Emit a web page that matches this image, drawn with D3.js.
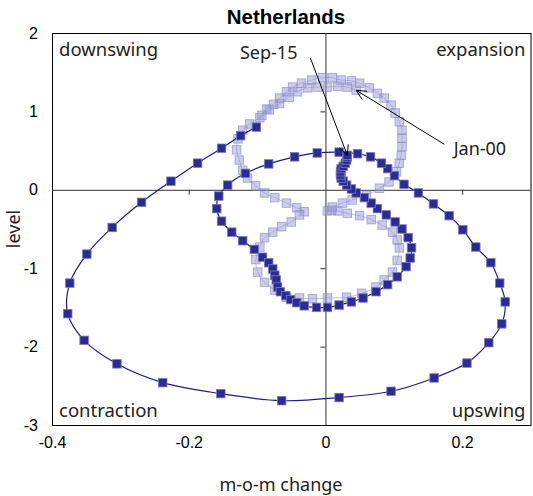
<!DOCTYPE html>
<html>
<head>
<meta charset="utf-8">
<script src="https://cdn.jsdelivr.net/npm/d3@7"></script>
<style>
  body { margin: 0; background: #fff; }
  .tick-label { font-family: "Liberation Sans", Arial, sans-serif; font-size: 16px; fill: #000; }
  .soft { font-family: "Noto Sans", "Open Sans", sans-serif; font-size: 18px; fill: #222; }
  .quad { font-size: 18.5px; }
</style>
</head>
<body>
<div id="chart"></div>
<script>
const WIDTH = 533;
const HEIGHT = 496;
const MARGIN = {top: 33, right: 2, bottom: 71, left: 52};

// earlier part of the cycle, drawn faint (Jan-00 onwards)
const earlyChange = [0.045, 0.032, 0.018, 0.003, -0.012, -0.026, -0.041, -0.053, -0.067, -0.082,
    -0.096, -0.111, -0.121, -0.128, -0.130, -0.126, -0.121, -0.114, -0.102, -0.089,
    -0.074, -0.057, -0.042, -0.031, -0.038, -0.050, -0.064, -0.077, -0.089, -0.096,
    -0.102, -0.099, -0.089, -0.074, -0.057, -0.038, -0.019, 0.003, 0.031, 0.053,
    0.074, 0.086, 0.098, 0.105, 0.108, 0.105, 0.098, 0.083, 0.067, 0.050,
    0.032, 0.018, 0.009, 0.003, 0.010, 0.025, 0.039, 0.060, 0.079, 0.093,
    0.104, 0.108, 0.111, 0.112, 0.112, 0.112, 0.108, 0.102, 0.096, 0.086,
    0.076, 0.064, 0.050, 0.038, 0.023, 0.010, -0.004, -0.020, -0.035, -0.048,
    -0.057, -0.067, -0.076, -0.086, -0.093];
const earlyLevel = [1.27, 1.31, 1.32, 1.31, 1.31, 1.30, 1.25, 1.18, 1.10, 1.02,
    0.92, 0.84, 0.76, 0.65, 0.51, 0.38, 0.25, 0.15, 0.05, -0.04,
    -0.10, -0.17, -0.23, -0.28, -0.32, -0.41, -0.47, -0.54, -0.61, -0.73,
    -0.89, -1.05, -1.18, -1.28, -1.37, -1.38, -1.39, -1.38, -1.37, -1.32,
    -1.24, -1.15, -1.05, -0.90, -0.74, -0.64, -0.54, -0.45, -0.38, -0.33,
    -0.30, -0.27, -0.26, -0.27, -0.22, -0.17, -0.13, -0.07, 0.02, 0.10,
    0.23, 0.34, 0.44, 0.55, 0.66, 0.76, 0.87, 0.98, 1.08, 1.17,
    1.23, 1.30, 1.36, 1.39, 1.40, 1.43, 1.43, 1.40, 1.36, 1.31,
    1.25, 1.17, 1.09, 1.03, 0.95];

// recent part of the cycle, up to Sep-15
const recentChange = [-0.101, -0.124, -0.152, -0.187, -0.226, -0.269, -0.312, -0.349, -0.374, -0.377,
    -0.353, -0.305, -0.238, -0.153, -0.064, 0.020, 0.096, 0.159, 0.207, 0.239,
    0.258, 0.263, 0.255, 0.242, 0.220, 0.201, 0.181, 0.158, 0.136, 0.115,
    0.101, 0.091, 0.082, 0.066, 0.047, 0.020, -0.012, -0.045, -0.083, -0.117,
    -0.143, -0.156, -0.159, -0.152, -0.137, -0.121, -0.104, -0.092, -0.083, -0.077,
    -0.074, -0.072, -0.070, -0.066, -0.058, -0.051, -0.042, -0.031, -0.013, 0.003,
    0.020, 0.038, 0.055, 0.074, 0.091, 0.105, 0.118, 0.124, 0.126, 0.121,
    0.112, 0.102, 0.089, 0.076, 0.067, 0.057, 0.045, 0.038, 0.031, 0.026,
    0.023, 0.022, 0.022, 0.023, 0.026, 0.029, 0.031, 0.032, 0.032];
const recentLevel = [0.80, 0.69, 0.53, 0.34, 0.11, -0.16, -0.48, -0.82, -1.19, -1.58,
    -1.92, -2.22, -2.46, -2.60, -2.69, -2.65, -2.57, -2.40, -2.21, -1.95,
    -1.71, -1.43, -1.19, -0.93, -0.73, -0.51, -0.33, -0.18, -0.04, 0.07,
    0.18, 0.27, 0.34, 0.42, 0.46, 0.48, 0.47, 0.42, 0.33, 0.21,
    0.06, -0.08, -0.24, -0.40, -0.54, -0.65, -0.76, -0.86, -0.93, -1.01,
    -1.09, -1.15, -1.24, -1.30, -1.35, -1.40, -1.44, -1.48, -1.50, -1.50,
    -1.47, -1.43, -1.38, -1.30, -1.21, -1.11, -0.98, -0.87, -0.74, -0.61,
    -0.50, -0.41, -0.32, -0.24, -0.17, -0.10, -0.04, 0.01, 0.06, 0.11,
    0.15, 0.19, 0.23, 0.27, 0.30, 0.34, 0.38, 0.42, 0.44];

const xTicks = [-0.4, -0.2, 0, 0.2];
const yTicks = [2, 1, 0, -1, -2, -3];
const quadrants = [
    {name: "downswing", x: -0.4, y: 2, anchor: "start"},
    {name: "expansion", x: 0.3, y: 2, anchor: "end"},
    {name: "contraction", x: -0.4, y: -3, anchor: "start"},
    {name: "upswing", x: 0.3, y: -3, anchor: "end"}
];

const innerW = WIDTH - MARGIN.left - MARGIN.right;
const innerH = HEIGHT - MARGIN.top - MARGIN.bottom;

const x = d3.scaleLinear().domain([-0.4, 0.3]).range([0, innerW - 0.5]);
const y = d3.scaleLinear().domain([-3, 2]).range([innerH, 0]);

const svg = d3.select("#chart")
    .append("svg")
    .attr("width", WIDTH)
    .attr("height", HEIGHT);

svg.append("text")
    .attr("x", 286).attr("y", 24)
    .attr("text-anchor", "middle")
    .attr("font-family", "Liberation Sans, Arial, sans-serif")
    .attr("font-weight", "bold")
    .attr("font-size", 20.5)
    .text("Netherlands");

const g = svg.append("g")
    .attr("transform", `translate(${MARGIN.left},${MARGIN.top})`);

// frame
g.append("rect")
    .attr("x", 0.5).attr("y", 0.5)
    .attr("width", x(0.3))
    .attr("height", innerH)
    .attr("fill", "none")
    .attr("stroke", "#000");

// zero lines with inward tick marks
const xZero = g.append("g")
    .attr("transform", `translate(0,${y(0)})`)
    .call(d3.axisBottom(x).tickValues(xTicks.filter(d => d !== 0 && d !== -0.4)).tickSize(5).tickFormat(""));
xZero.select(".domain").attr("d", `M0,0.5H${x(0.3)}`).attr("stroke", "#333");
xZero.selectAll(".tick line").attr("stroke", "#333");

const yZero = g.append("g")
    .attr("transform", `translate(${x(0)},0)`)
    .call(d3.axisLeft(y).tickValues(yTicks.filter(d => d !== 0 && d !== 2 && d !== -3)).tickSize(5).tickFormat(""));
yZero.select(".domain").attr("d", `M0.5,0V${innerH}`).attr("stroke", "#333");
yZero.selectAll(".tick line").attr("stroke", "#333");

// tick labels along the frame
g.append("g")
    .attr("transform", `translate(0,${innerH})`)
    .call(d3.axisBottom(x).tickValues(xTicks).tickSize(0).tickPadding(12).tickFormat(d => d === 0 ? "0" : d3.format(".1f")(d).replace("−", "-")))
    .call(a => a.select(".domain").remove())
    .selectAll("text").attr("class", "tick-label");

g.append("g")
    .call(d3.axisLeft(y).tickValues(yTicks).tickSize(0).tickPadding(14).tickFormat(d => String(d)))
    .call(a => a.select(".domain").remove())
    .selectAll("text").attr("class", "tick-label");

// axis titles
svg.append("text")
    .attr("class", "soft")
    .attr("x", 281).attr("y", 491)
    .attr("text-anchor", "middle")
    .text("m-o-m change");

svg.append("text")
    .attr("class", "soft")
    .attr("transform", `translate(20,${MARGIN.top + y(-0.5)}) rotate(-90)`)
    .attr("text-anchor", "middle")
    .text("level");

// quadrant names
g.selectAll(".quad")
    .data(quadrants)
    .join("text")
    .attr("class", "soft quad")
    .attr("x", d => x(d.x) + (d.anchor === "start" ? 7 : -5))
    .attr("y", d => y(d.y) + (d.y > 0 ? 23 : -8))
    .attr("text-anchor", d => d.anchor)
    .text(d => d.name);

const early = earlyChange.map((c, i) => [c, earlyLevel[i]]);
const recent = recentChange.map((c, i) => [c, recentLevel[i]]);

const line = d3.line()
    .x(d => x(d[0]))
    .y(d => y(d[1]))
    .curve(d3.curveCatmullRom);

const S = 8.5;

g.append("path")
    .datum(early.concat([recent[0]]))
    .attr("d", line)
    .attr("fill", "none")
    .attr("stroke", "#2a2a90")
    .attr("stroke-opacity", 0.3);

g.selectAll(".early")
    .data(early)
    .join("rect")
    .attr("x", d => x(d[0]) - S / 2)
    .attr("y", d => y(d[1]) - S / 2)
    .attr("width", S).attr("height", S)
    .attr("fill", "#9a9ad6")
    .attr("fill-opacity", 0.5)
    .attr("stroke", "#8a8ad0")
    .attr("stroke-opacity", 0.65);

g.append("path")
    .datum(recent)
    .attr("d", line)
    .attr("fill", "none")
    .attr("stroke", "#1c1c8a")
    .attr("stroke-width", 1.2);

g.selectAll(".recent")
    .data(recent)
    .join("rect")
    .attr("x", d => x(d[0]) - S / 2)
    .attr("y", d => y(d[1]) - S / 2)
    .attr("width", S).attr("height", S)
    .attr("fill", "#2b2b93")
    .attr("stroke", "#7a7ac4")
    .attr("stroke-width", 0.8);

// annotations
const notes = [
    {label: "Sep-15", tx: -0.083, ty: 1.75, from: [-0.022, 1.68], to: recent[recent.length - 1]},
    {label: "Jan-00", tx: 0.226, ty: 0.53, from: [0.174, 0.58], to: early[0]}
];

function arrowHead(sel, from, to) {
    const ang = Math.atan2(y(to[1]) - y(from[1]), x(to[0]) - x(from[0]));
    const len = 11, spread = 0.45;
    const tx = x(to[0]), ty = y(to[1]);
    sel.append("path")
        .attr("d", `M${tx - len * Math.cos(ang - spread)},${ty - len * Math.sin(ang - spread)}L${tx},${ty}L${tx - len * Math.cos(ang + spread)},${ty - len * Math.sin(ang + spread)}`)
        .attr("fill", "none")
        .attr("stroke", "#000");
}

notes.forEach(n => {
    g.append("text")
        .attr("class", "soft")
        .attr("x", x(n.tx)).attr("y", y(n.ty))
        .attr("text-anchor", "middle")
        .attr("dy", "0.35em")
        .text(n.label);
    g.append("line")
        .attr("x1", x(n.from[0])).attr("y1", y(n.from[1]))
        .attr("x2", x(n.to[0])).attr("y2", y(n.to[1]))
        .attr("stroke", "#000");
    arrowHead(g, n.from, n.to);
});
</script>
</body>
</html>
